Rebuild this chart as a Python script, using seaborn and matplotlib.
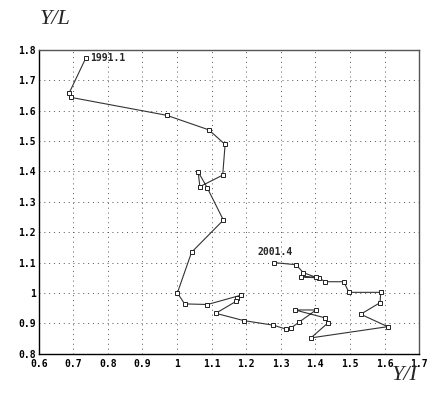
import numpy as np
import pandas as pd
import matplotlib
matplotlib.use("Agg")
import matplotlib.pyplot as plt
import seaborn as sns
from matplotlib.ticker import FuncFormatter

# Y/I (x) and Y/L (y), quarterly path 1991.1 -> 2001.4
y_i = [0.736, 0.688, 0.693, 0.970, 1.092, 1.139, 1.132, 1.066, 1.061, 1.087,
       1.134, 1.042, 1.001, 1.022, 1.088, 1.186, 1.172, 1.170, 1.112, 1.193,
       1.278, 1.315, 1.330, 1.353, 1.402, 1.341, 1.428, 1.437, 1.387, 1.609,
       1.531, 1.587, 1.589, 1.497, 1.482, 1.429, 1.410, 1.357, 1.403, 1.365,
       1.344, 1.280]
y_l = [1.773, 1.658, 1.644, 1.585, 1.537, 1.489, 1.388, 1.350, 1.399, 1.347,
       1.240, 1.134, 1.000, 0.964, 0.962, 0.993, 0.982, 0.972, 0.933, 0.909,
       0.894, 0.881, 0.885, 0.904, 0.944, 0.944, 0.918, 0.902, 0.852, 0.889,
       0.930, 0.968, 1.002, 1.002, 1.037, 1.037, 1.049, 1.054, 1.051, 1.067,
       1.093, 1.100]
start_label = "1991.1"
end_label = "2001.4"

df = pd.DataFrame({"yi": y_i, "yl": y_l})

sns.set_style("white")
fig = plt.figure(figsize=(4.29, 3.98), dpi=100)
ax = fig.add_axes([0.0902, 0.1113, 0.8868, 0.7631])

sns.lineplot(data=df, x="yi", y="yl", sort=False, estimator=None, ax=ax,
             color="#333333", linewidth=0.8, marker="s", markersize=3.5,
             markerfacecolor="white", markeredgecolor="#222222",
             markeredgewidth=0.7)

ax.set_xlim(0.6, 1.7)
ax.set_ylim(0.8, 1.8)
ax.set_xticks(np.arange(0.6, 1.71, 0.1))
ax.set_yticks(np.arange(0.8, 1.81, 0.1))
fmt = FuncFormatter(lambda v, p: f"{v:g}" if abs(v - round(v)) > 1e-9 else f"{int(round(v))}")
ax.xaxis.set_major_formatter(fmt)
ax.yaxis.set_major_formatter(fmt)
for lab in ax.get_xticklabels() + ax.get_yticklabels():
    lab.set_fontfamily("DejaVu Sans Mono")
    lab.set_fontweight("bold")
    lab.set_fontsize(7)
ax.tick_params(axis="both", direction="in", length=3, width=0.8, colors="black")
ax.tick_params(axis="x", pad=3.5)
ax.tick_params(axis="y", pad=2)
ax.grid(True, linestyle=(0, (1, 4)), color="#555555", linewidth=0.7)

for side in ["left", "bottom"]:
    ax.spines[side].set_color("black")
    ax.spines[side].set_linewidth(1.0)
for side in ["top", "right"]:
    ax.spines[side].set_color("#555555")
    ax.spines[side].set_linewidth(1.0)

ax.set_xlabel("")
ax.set_ylabel("")

ax.annotate(start_label, (y_i[0], y_l[0]), xytext=(3, 0), textcoords="offset points",
            ha="left", va="center", fontsize=7, fontfamily="DejaVu Sans Mono",
            fontweight="bold")
ax.annotate(end_label, (y_i[-1], y_l[-1]), xytext=(-12, 4), textcoords="offset points",
            ha="left", va="bottom", fontsize=7, fontfamily="DejaVu Sans Mono",
            fontweight="bold")

fig.text(55 / 429, 1 - 19 / 398, "Y/L", fontsize=16, fontfamily="Liberation Serif",
         fontstyle="italic", ha="center", va="center")
fig.text(405 / 429, 1 - 376 / 398, "Y/I", fontsize=16, fontfamily="Liberation Serif",
         fontstyle="italic", ha="center", va="center")

fig.savefig("out.png", dpi=100)
